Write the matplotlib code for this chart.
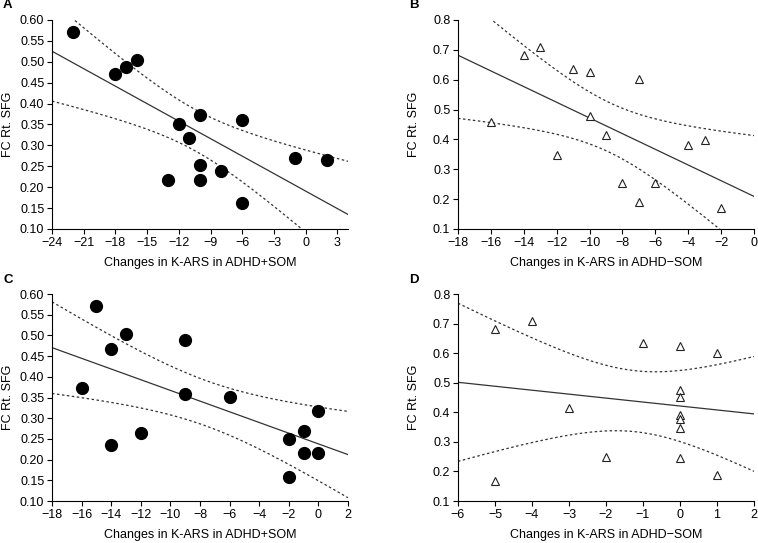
import numpy as np
import matplotlib
matplotlib.use("Agg")
import matplotlib.pyplot as plt
from matplotlib.ticker import FormatStrFormatter

plt.rcParams["font.family"] = ["Liberation Sans", "DejaVu Sans"]

# panel A: ADHD+SOM, x range -24..3
a_x = [-22, -18, -17, -16, -12, -11, -10, -10, -10, -13, -8, -6, -6, -1, 2]
a_y = [0.572, 0.470, 0.488, 0.505, 0.352, 0.318, 0.373, 0.252, 0.218, 0.218,
       0.238, 0.360, 0.162, 0.271, 0.265]

# panel B: ADHD-SOM
b_x = [-16, -14, -13, -11, -10, -7, -10, -9, -12, -8, -6, -7, -4, -3, -2]
b_y = [0.457, 0.682, 0.709, 0.637, 0.625, 0.601, 0.480, 0.416, 0.349, 0.254,
       0.253, 0.192, 0.382, 0.397, 0.171]

# panel C: ADHD+SOM
c_x = [-15, -16, -14, -13, -14, -12, -9, -9, -6, -2, -2, -1, -1, 0, 0]
c_y = [0.572, 0.372, 0.468, 0.504, 0.236, 0.264, 0.488, 0.359, 0.351, 0.250,
       0.159, 0.269, 0.217, 0.317, 0.217]

# panel D: ADHD-SOM
d_x = [-5, -4, -5, -3, -2, -1, 0, 0, 0, 0, 0, 0, 0, 1, 1]
d_y = [0.683, 0.708, 0.168, 0.415, 0.250, 0.635, 0.623, 0.477, 0.452, 0.391,
       0.379, 0.346, 0.247, 0.599, 0.188]

T_CRIT = 2.160  # t(0.975, df=13)

XLABEL_PLUS = "Changes in K-ARS in ADHD+SOM"
XLABEL_MINUS = "Changes in K-ARS in ADHD\u2212SOM"
YLABEL = "FC Rt. SFG"


def fit_band(x, y, grid):
    x = np.asarray(x, float)
    y = np.asarray(y, float)
    n = len(x)
    slope, icpt = np.polyfit(x, y, 1)
    resid = y - (slope * x + icpt)
    s = np.sqrt(np.sum(resid ** 2) / (n - 2))
    sxx = np.sum((x - x.mean()) ** 2)
    fit = slope * grid + icpt
    half = T_CRIT * s * np.sqrt(1.0 / n + (grid - x.mean()) ** 2 / sxx)
    return fit, fit - half, fit + half


def draw_panel(ax, x, y, letter, xlim, xticks, ylim, yticks, yfmt, xlabel, filled):
    grid = np.linspace(xlim[0], xlim[1], 300)
    fit, lo, hi = fit_band(x, y, grid)
    ax.plot(grid, fit, color="#333333", lw=0.9)
    ax.plot(grid, lo, color="#333333", lw=0.9, ls=(0, (2, 2)))
    ax.plot(grid, hi, color="#333333", lw=0.9, ls=(0, (2, 2)))
    if filled:
        ax.plot(x, y, "o", ms=8.5, color="black", zorder=3)
    else:
        ax.plot(x, y, "^", ms=6.3, mfc="white", mec="#222222", mew=0.8, zorder=3)
    ax.set_xlim(xlim)
    ax.set_ylim(ylim)
    ax.set_xticks(xticks)
    ax.set_yticks(yticks)
    ax.yaxis.set_major_formatter(FormatStrFormatter(yfmt))
    ax.spines["top"].set_visible(False)
    ax.spines["right"].set_visible(False)
    for sp in ("left", "bottom"):
        ax.spines[sp].set_linewidth(0.8)
    ax.tick_params(direction="out", length=3.5, width=0.8, labelsize=9, pad=2)
    ax.set_xlabel(xlabel, fontsize=9)
    ax.set_ylabel(YLABEL, fontsize=9)
    ax.yaxis.set_label_coords(-0.128, 0.5)
    ax.xaxis.set_label_coords(0.5, -0.135)
    ax.text(-0.165, 1.07, letter, transform=ax.transAxes, fontsize=9.5,
            fontweight="bold", ha="left", va="center")


fig = plt.figure(figsize=(7.58, 5.43), dpi=100)
ax_a = fig.add_axes([0.0686, 0.5783, 0.3905, 0.3849])
ax_b = fig.add_axes([0.6042, 0.5783, 0.3905, 0.3849])
ax_c = fig.add_axes([0.0686, 0.0773, 0.3905, 0.3812])
ax_d = fig.add_axes([0.6042, 0.0773, 0.3905, 0.3812])

draw_panel(ax_a, a_x, a_y, "A", (-24, 4), np.arange(-24, 4, 3), (0.10, 0.60),
           np.arange(0.10, 0.601, 0.05), "%.2f", XLABEL_PLUS, True)
draw_panel(ax_b, b_x, b_y, "B", (-18, 0), np.arange(-18, 1, 2), (0.1, 0.8),
           np.arange(0.1, 0.801, 0.1), "%.1f", XLABEL_MINUS, False)
draw_panel(ax_c, c_x, c_y, "C", (-18, 2), np.arange(-18, 3, 2), (0.10, 0.60),
           np.arange(0.10, 0.601, 0.05), "%.2f", XLABEL_PLUS, True)
draw_panel(ax_d, d_x, d_y, "D", (-6, 2), np.arange(-6, 3, 1), (0.1, 0.8),
           np.arange(0.1, 0.801, 0.1), "%.1f", XLABEL_MINUS, False)

fig.savefig("out.png", dpi=100)
plt.close(fig)
